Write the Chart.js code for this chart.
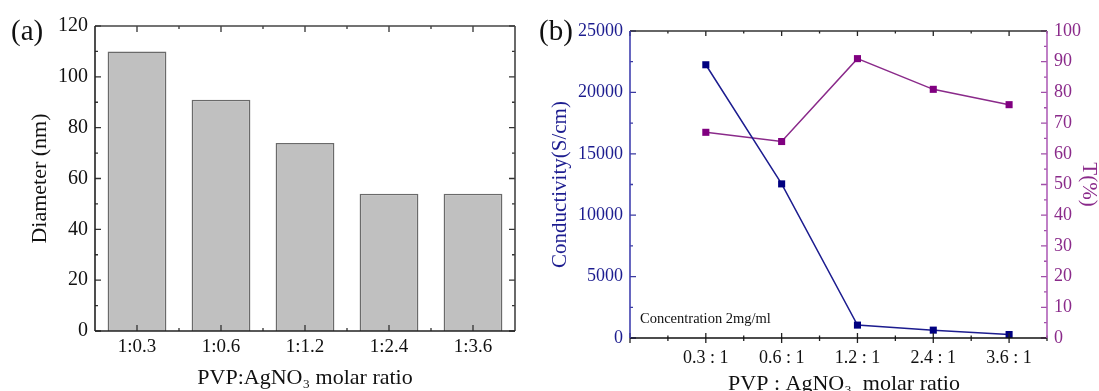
<!DOCTYPE html>
<html>
<head>
<meta charset="utf-8">
<script src="https://cdn.jsdelivr.net/npm/chart.js@4"></script>
<style>
  body { margin: 0; background: #fff; }
  #wrap { position: relative; width: 1099px; height: 391px; overflow: hidden; font-family: "Liberation Serif", serif; }
  .panel { position: absolute; top: 0; }
  .tag { position: absolute; font-size: 29px; color: #111; line-height: 1; }
</style>
</head>
<body>
<div id="wrap">
  <canvas id="bar" class="panel" width="540" height="391" style="left:0"></canvas>
  <canvas id="line" class="panel" width="559" height="391" style="left:540px"></canvas>
  <div class="tag" style="left:11px;top:16px">(a)</div>
  <div class="tag" style="left:539px;top:16px">(b)</div>
</div>
<script>
const serif = 'Liberation Serif'
const navy = '#1c1c8f'
const purple = '#8a2a8a'

// (a) particle diameter
const ratioA = ['1:0.3', '1:0.6', '1:1.2', '1:2.4', '1:3.6']
const diameter = [110, 91, 74, 54, 54]

// (b) conductivity and transmittance
const ratioB = ['0.3 : 1', '0.6 : 1', '1.2 : 1', '2.4 : 1', '3.6 : 1']
const conductivity = [22250, 12550, 1050, 640, 280]
const transmittance = [67, 64, 91, 81, 76]

// inward tick marks + box frame, like the origin plots
const frame = {
  id: 'frame',
  afterDatasetsDraw(chart, args, opts) {
    const ctx = chart.ctx, a = chart.chartArea
    ctx.save()
    ctx.lineWidth = 1.3
    opts.marks.forEach(m => {
      const s = chart.scales[m.scale]
      ctx.strokeStyle = m.color
      ctx.beginPath()
      const n0 = Math.ceil(s.min / m.minor - 1e-9), n1 = Math.floor(s.max / m.minor + 1e-9)
      for (let k = n0; k <= n1; k++) {
        const v = k * m.minor
        const major = Math.abs(v / m.major - Math.round(v / m.major)) < 1e-6
        const len = major ? m.len : m.len / 2
        const out = (m.out || 0) * (major ? 1 : 0.6)
        const p = s.getPixelForValue(v)
        m.sides.forEach(side => {
          if (side == 'bottom') { ctx.moveTo(p, a.bottom + out); ctx.lineTo(p, a.bottom - len) }
          if (side == 'top') { ctx.moveTo(p, a.top); ctx.lineTo(p, a.top + len) }
          if (side == 'left') { ctx.moveTo(a.left, p); ctx.lineTo(a.left + len, p) }
          if (side == 'right') { ctx.moveTo(a.right, p); ctx.lineTo(a.right - len, p) }
        })
      }
      ctx.stroke()
    })
    ctx.lineWidth = 1.6
    opts.edges.forEach(e => {
      ctx.strokeStyle = e.color
      ctx.beginPath()
      if (e.side == 'top') { ctx.moveTo(a.left, a.top); ctx.lineTo(a.right, a.top) }
      if (e.side == 'bottom') { ctx.moveTo(a.left, a.bottom); ctx.lineTo(a.right, a.bottom) }
      if (e.side == 'left') { ctx.moveTo(a.left, a.top); ctx.lineTo(a.left, a.bottom) }
      if (e.side == 'right') { ctx.moveTo(a.right, a.top); ctx.lineTo(a.right, a.bottom) }
      ctx.stroke()
    })
    if (opts.note) {
      ctx.fillStyle = '#111'
      ctx.font = '14.5px "Liberation Serif"'
      ctx.textBaseline = 'middle'
      ctx.fillText(opts.note, a.left + 10, a.bottom - 19)
    }
    ctx.restore()
  }
}

const noGrid = { display: false, drawTicks: false }
const plain = v => String(v)

new Chart(document.getElementById('bar'), {
  type: 'bar',
  data: {
    labels: ratioA,
    datasets: [{
      data: diameter,
      backgroundColor: '#c0c0c0',
      borderColor: '#6a6a6a',
      borderWidth: 1.5,
      barPercentage: 0.7,
      categoryPercentage: 1
    }]
  },
  options: {
    responsive: false,
    animation: false,
    layout: { padding: { top: 26, right: 25, left: 0, bottom: 0 } },
    plugins: {
      legend: { display: false },
      tooltip: { enabled: false },
      frame: {
        marks: [
          { scale: 'x', sides: ['bottom', 'top'], major: 1, minor: 0.5, len: 6, color: '#333' },
          { scale: 'y', sides: ['left', 'right'], major: 20, minor: 10, len: 6, color: '#333' }
        ],
        edges: [
          { side: 'top', color: '#444' }, { side: 'right', color: '#444' },
          { side: 'bottom', color: '#222' }, { side: 'left', color: '#222' }
        ]
      }
    },
    scales: {
      x: {
        offset: true,
        grid: noGrid,
        border: { display: false },
        ticks: { color: '#111', font: { family: serif, size: 19 }, padding: 5, maxRotation: 0 },
        title: { display: true, text: 'PVP:AgNO₃ molar ratio', color: '#111', font: { family: serif, size: 22 }, padding: 0 },
        afterFit(s) { s.height = 60 }
      },
      y: {
        min: 0, max: 120,
        grid: noGrid,
        border: { display: false },
        ticks: { stepSize: 20, color: '#111', font: { family: serif, size: 20 }, padding: 7, callback: plain },
        title: { display: true, text: 'Diameter (nm)', color: '#111', font: { family: serif, size: 22 }, padding: { top: 27, bottom: 0 } },
        afterFit(s) { s.width = 95 }
      }
    }
  },
  plugins: [frame]
})

new Chart(document.getElementById('line'), {
  type: 'line',
  data: {
    datasets: [
      {
        data: conductivity.map((v, i) => ({ x: i + 1, y: v })),
        yAxisID: 'y',
        borderColor: navy, backgroundColor: '#000080',
        borderWidth: 1.5,
        pointStyle: 'rect', pointRadius: 5, pointBorderWidth: 0,
        pointBackgroundColor: '#000080'
      },
      {
        data: transmittance.map((v, i) => ({ x: i + 1, y: v })),
        yAxisID: 'y1',
        borderColor: purple, backgroundColor: '#800080',
        borderWidth: 1.5,
        pointStyle: 'rect', pointRadius: 5, pointBorderWidth: 0,
        pointBackgroundColor: '#800080'
      }
    ]
  },
  options: {
    responsive: false,
    animation: false,
    layout: { padding: { top: 31, right: 0, left: 0, bottom: 0 } },
    plugins: {
      legend: { display: false },
      tooltip: { enabled: false },
      frame: {
        marks: [
          { scale: 'x', sides: ['bottom'], major: 1, minor: 0.5, len: 5, out: 5, color: '#222' },
          { scale: 'x', sides: ['top'], major: 1, minor: 0.5, len: 5, color: '#222' },
          { scale: 'y', sides: ['left'], major: 5000, minor: 2500, len: 6, color: '#3a3aa0' },
          { scale: 'y1', sides: ['right'], major: 10, minor: 5, len: 6, color: '#a050a8' }
        ],
        edges: [
          { side: 'top', color: '#333' }, { side: 'bottom', color: '#111' },
          { side: 'left', color: '#4040b0' }, { side: 'right', color: '#b060b8' }
        ],
        note: 'Concentration 2mg/ml'
      }
    },
    scales: {
      x: {
        type: 'linear', min: 0, max: 5.5,
        grid: noGrid,
        border: { display: false },
        ticks: {
          stepSize: 0.5, autoSkip: false, maxRotation: 0,
          color: '#111', font: { family: serif, size: 18 }, padding: 9,
          callback: v => {
            const i = Math.round(v)
            return Math.abs(v - i) < 1e-6 && i >= 1 && i <= ratioB.length ? ratioB[i - 1] : ''
          }
        },
        title: { display: true, text: '\u2002PVP : AgNO₃  molar ratio', color: '#111', font: { family: serif, size: 22, lineHeight: 0.6 }, padding: 0 },
        afterFit(s) { s.height = 53 }
      },
      y: {
        position: 'left', min: 0, max: 25000,
        grid: noGrid,
        border: { display: false },
        ticks: { stepSize: 5000, color: navy, font: { family: serif, size: 18 }, padding: 7, callback: plain },
        title: { display: true, text: 'Conductivity(S/cm)', color: navy, font: { family: serif, size: 21 }, padding: { top: 8, bottom: 0 } },
        afterFit(s) { s.width = 90 }
      },
      y1: {
        position: 'right', min: 0, max: 100,
        grid: noGrid,
        border: { display: false },
        ticks: { stepSize: 10, color: purple, font: { family: serif, size: 18 }, padding: 7, callback: plain },
        title: { display: true, text: 'T(%)', color: purple, font: { family: serif, size: 21, lineHeight: 1 }, padding: 0 },
        afterFit(s) { s.width = 52 }
      }
    }
  },
  plugins: [frame]
})
</script>
</body>
</html>
